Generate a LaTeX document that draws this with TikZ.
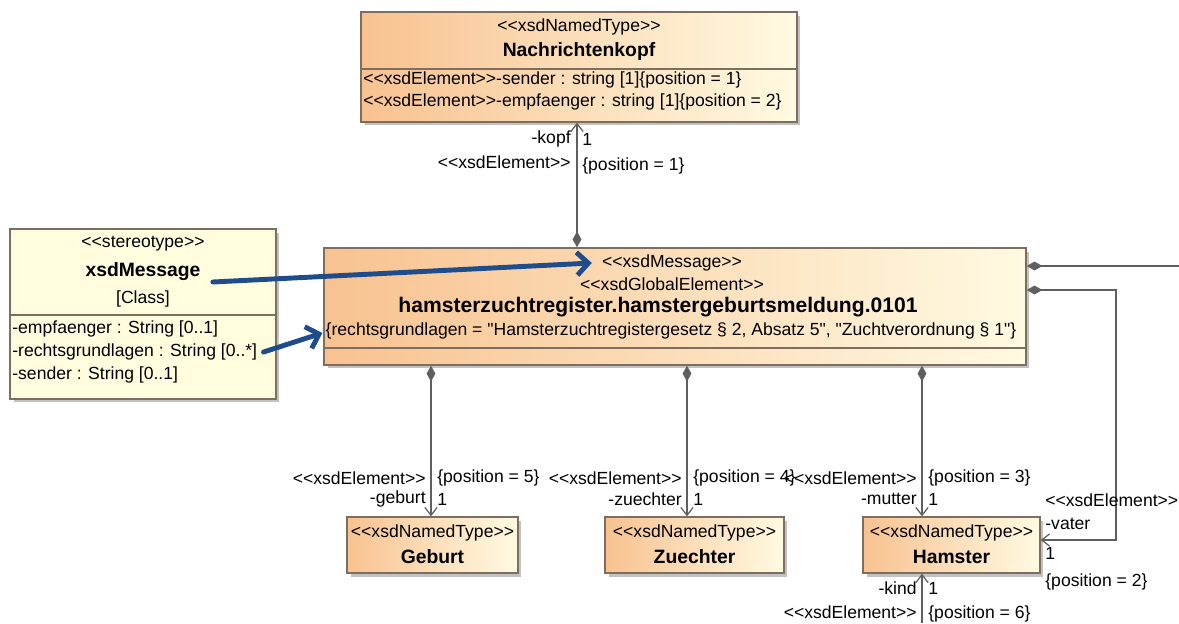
\documentclass[tikz,border=0pt]{standalone}
\usepackage{fontspec}
\setmainfont{Liberation Sans}[Ligatures=TeXOff]
\usepackage{tikz}
\usetikzlibrary{arrows.meta, shadows, positioning}
\definecolor{umlorange}{RGB}{248,194,144}
\definecolor{umlcream}{RGB}{255,250,226}
\definecolor{umlpale}{RGB}{255,253,222}
\definecolor{umlborder}{RGB}{125,110,95}
\definecolor{linkgray}{RGB}{95,95,95}
\definecolor{noteblue}{RGB}{31,76,140}

\begin{document}
\begin{tikzpicture}[x=0.02cm, y=-0.02cm,
    typebox/.style={draw=umlborder, line width=0.8pt, left color=umlorange, right color=umlcream,
      drop shadow={shadow xshift=0.07cm, shadow yshift=-0.07cm, fill=gray!80, opacity=0.6}},
    stereobox/.style={draw=umlborder, line width=0.8pt, fill=umlpale,
      drop shadow={shadow xshift=0.07cm, shadow yshift=-0.07cm, fill=gray!80, opacity=0.6}},
    txt/.style={inner sep=0pt, font=\fontsize{10}{12}\selectfont},
    title/.style={inner sep=0pt, font=\fontsize{11}{13}\selectfont\bfseries},
    link/.style={draw=linkgray, line width=0.7pt, {Diamond[length=9pt,width=5pt]}-{Straight Barb[length=4.5pt,width=7pt]}},
    linkend/.style={draw=linkgray, line width=0.7pt, {Diamond[length=9pt,width=5pt]}-},
    linkin/.style={draw=linkgray, line width=0.7pt, -{Straight Barb[length=4.5pt,width=7pt]}},
    note/.style={draw=noteblue, line width=2.8pt, line cap=round, -{Straight Barb[length=6.5pt,width=13pt]}}
]
    \useasboundingbox (0,0) rectangle (1179,623);

    % boxes
    \node[typebox, minimum width=8.72cm, minimum height=2.2cm, name=kopf] at(579,67) {};
    \node[stereobox, minimum width=5.32cm, minimum height=3.4cm, name=stereo] at(143,314) {};
    \node[typebox, minimum width=14.04cm, minimum height=2.34cm, name=msg] at(675,306.5) {};
    \node[typebox, minimum width=3.42cm, minimum height=1.12cm, name=geburt] at(432.5,545) {};
    \node[typebox, minimum width=3.58cm, minimum height=1.12cm, name=zuechter] at(694.5,545) {};
    \node[typebox, minimum width=3.54cm, minimum height=1.12cm, name=hamster] at(951.5,545) {};

    \draw[umlborder, line width=0.8pt] (kopf.west |- 0,69) -- (kopf.east |- 0,69);
    \draw[umlborder, line width=0.8pt] (stereo.west |- 0,315) -- (stereo.east |- 0,315);
    \draw[umlborder, line width=0.8pt] (msg.west |- 0,348) -- (msg.east |- 0,348);

    % Nachrichtenkopf
    \node[txt, name=kopfst] at(579,27) {<<xsdNamedType>>};
    \node[title, name=kopfname] at(579,51) {Nachrichtenkopf};
    \node[txt, anchor=west, name=kopfa1] at(363,80) {<<xsdElement>>-sender : string [1]\{position = 1\}};
    \node[txt, anchor=west, name=kopfa2] at(363,102) {<<xsdElement>>-empfaenger : string [1]\{position = 2\}};

    % stereotype
    \node[txt, name=stereost] at(143,244) {<<stereotype>>};
    \node[title, name=stereoname] at(143,272) {xsdMessage};
    \node[txt, name=stereocls] at(143,299) {[Class]};
    \node[txt, anchor=west, name=sattr1] at(12,329) {-empfaenger : String [0..1]};
    \node[txt, anchor=west, name=sattr2] at(12,352) {-rechtsgrundlagen : String [0..*]};
    \node[txt, anchor=west, name=sattr3] at(12,375) {-sender : String [0..1]};

    % message element
    \node[txt, name=msgst] at(672,263) {<<xsdMessage>>};
    \node[txt, name=msgge] at(672,284) {<<xsdGlobalElement>>};
    \node[title, font=\fontsize{12}{14}\selectfont\bfseries, name=msgname] at(658,307) {hamsterzuchtregister.hamstergeburtsmeldung.0101};
    \node[txt, name=msgconstr] at(671,331) {\{rechtsgrundlagen = "Hamsterzuchtregistergesetz § 2, Absatz 5", "Zuchtverordnung § 1"\}};

    % small types
    \node[txt, name=geburtst] at(432.5,533) {<<xsdNamedType>>};
    \node[title, name=geburtname] at(432.5,557) {Geburt};
    \node[txt, name=zuechterst] at(694.5,533) {<<xsdNamedType>>};
    \node[title, name=zuechtername] at(694.5,557) {Zuechter};
    \node[txt, name=hamsterst] at(951.5,533) {<<xsdNamedType>>};
    \node[title, name=hamstername] at(951.5,557) {Hamster};

    % kopf
    \draw[link] (msg.north -| 577,0) -- (kopf.south -| 577,0);
    \node[txt, anchor=east, name=kopfrole] at(571,139) {-kopf};
    \node[txt, anchor=west, name=kopfmult] at(582,139) {1};
    \node[txt, anchor=east, name=kopfstereo] at(571,162) {<<xsdElement>>};
    \node[txt, anchor=west, name=kopfpos] at(582,166) {\{position = 1\}};

    % geburt
    \draw[link] (msg.south -| 431,0) -- (geburt.north -| 431,0);
    \node[txt, anchor=east, name=geburtstereo] at(426,478) {<<xsdElement>>};
    \node[txt, anchor=west, name=geburtpos] at(437,478) {\{position = 5\}};
    \node[txt, anchor=east, name=geburtrole] at(426,499) {-geburt};
    \node[txt, anchor=west, name=geburtmult] at(437,499) {1};

    % zuechter
    \draw[link] (msg.south -| 687,0) -- (zuechter.north -| 687,0);
    \node[txt, anchor=east, name=zuechterstereo] at(682,478) {<<xsdElement>>};
    \node[txt, anchor=west, name=zuechterpos] at(693,478) {\{position = 4\}};
    \node[txt, anchor=east, name=zuechterrole] at(682,499) {-zuechter};
    \node[txt, anchor=west, name=zuechtermult] at(693,499) {1};

    % mutter
    \draw[link] (msg.south -| 922,0) -- (hamster.north -| 922,0);
    \node[txt, anchor=east, name=mutterstereo] at(917,478) {<<xsdElement>>};
    \node[txt, anchor=west, name=mutterpos] at(928,478) {\{position = 3\}};
    \node[txt, anchor=east, name=mutterrole] at(917,499) {-mutter};
    \node[txt, anchor=west, name=muttermult] at(928,499) {1};

    % vater
    \coordinate (vbend) at(1116,540);
    \draw[link] (msg.east |- 0,290) -| (vbend) -- (hamster.east |- vbend);
    \node[txt, anchor=west, name=vaterstereo] at(1045,500) {<<xsdElement>>};
    \node[txt, anchor=west, name=vaterrole] at(1045,524) {-vater};
    \node[txt, anchor=west, name=vatermult] at(1045,553) {1};
    \node[txt, anchor=west, name=vaterpos] at(1045,582) {\{position = 2\}};

    % off to the right
    \coordinate (rightend) at(1179,266);
    \draw[linkend] (msg.east |- rightend) -- (rightend);

    % kind
    \coordinate (kindend) at(922,623);
    \draw[linkin] (kindend) -- (hamster.south -| kindend);
    \node[txt, anchor=east, name=kindrole] at(917,588) {-kind};
    \node[txt, anchor=west, name=kindmult] at(928,588) {1};
    \node[txt, anchor=east, name=kindstereo] at(917,612) {<<xsdElement>>};
    \node[txt, anchor=west, name=kindpos] at(928,614) {\{position = 6\}};

    % notes
    \draw[note] ([shift={(12,10)}]stereoname.east) -- ([shift={(-10,0)}]msgst.west);
    \draw[note] ([shift={(6,0)}]sattr2.east) -- ([shift={(-3,2)}]msgconstr.west);

\end{tikzpicture}
\end{document}
